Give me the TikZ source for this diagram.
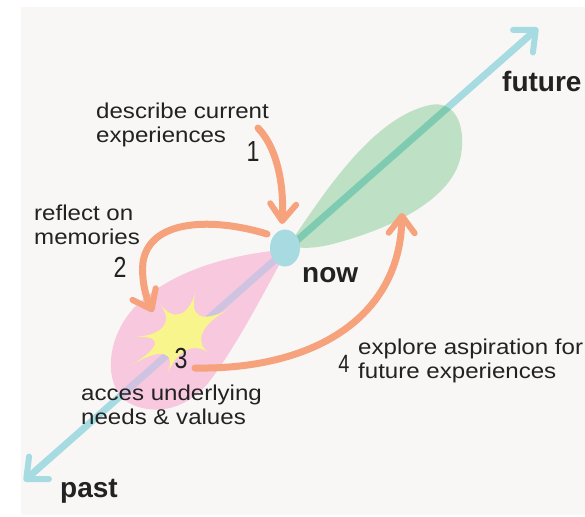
\documentclass[tikz,border=0pt]{standalone}
\usepackage{fontspec}
\setmainfont{Liberation Sans}
\newfontfamily\lblfont[FakeStretch=1.12]{Liberation Sans}
\newfontfamily\numfont[FakeStretch=0.8]{Liberation Sans}
\usetikzlibrary{arrows.meta,shapes.geometric,calc}
\definecolor{bg}{HTML}{F8F7F5}
\definecolor{axisblue}{HTML}{A6DBE2}
\definecolor{dotblue}{HTML}{A8DAE2}
\definecolor{leafgreen}{HTML}{BEE0C4}
\definecolor{leafpink}{HTML}{F7C8DE}
\definecolor{axisteal}{HTML}{7ECBB2}
\definecolor{axislav}{HTML}{CEC3E0}
\definecolor{burst}{HTML}{F7F58B}
\definecolor{steporange}{HTML}{F6A27C}
\definecolor{ink}{HTML}{222222}
\begin{document}
\begin{tikzpicture}[x=1pt,y=-1pt,
  txt/.style={font=\lblfont\fontsize{21.5}{23.5}\selectfont, text=ink, inner sep=0pt, anchor=base west, align=left},
  bigtxt/.style={font=\bfseries\fontsize{28}{30}\selectfont, text=ink, inner sep=0pt, anchor=base west},
  numtxt/.style={font=\numfont\fontsize{29}{29}\selectfont, text=ink, inner sep=0pt},
  axisline/.style={line width=7pt, draw=axisblue,
    {Straight Barb[length=17pt,width=30pt,line width=6pt,round]}-{Straight Barb[length=17pt,width=30pt,line width=6pt,round]}},
  steparrow/.style={line width=7pt, draw=steporange, line cap=round,
    -{Straight Barb[length=17pt,width=26pt,line width=6pt,round]}}
]
\useasboundingbox (0,0) rectangle (585,516);
\fill[white] (0,0) rectangle (585,516);
\fill[bg] (21,7) rectangle (585,515);

% time axis end points
\coordinate (pastend) at (24,481);
\coordinate (futureend) at (538,28);
\draw[axisline] (pastend) -- (futureend);

% leaves around the present moment
\path[save path=\greenleaf] (290,243) .. controls (320,200) and (370,118) .. (430,105)
  .. controls (455,100) and (466,125) .. (461,155)
  .. controls (453,200) and (390,228) .. (340,242)
  .. controls (320,248) and (300,250) .. (290,245) -- cycle;
\path[save path=\pinkleaf] (281,250) .. controls (240,254) and (180,266) .. (140,302)
  .. controls (105,333) and (100,390) .. (133,405)
  .. controls (165,418) and (195,402) .. (212,378)
  .. controls (240,340) and (265,290) .. (283,258) -- cycle;
\fill[leafgreen, use path=\greenleaf];
\fill[leafpink, use path=\pinkleaf];
\begin{scope}
  \clip[use path=\greenleaf];
  \draw[line width=7pt, axisteal] (pastend) -- (futureend);
\end{scope}
\begin{scope}
  \clip[use path=\pinkleaf];
  \draw[line width=7pt, axislav] (pastend) -- (futureend);
\end{scope}

% burst of underlying needs: spikes joined by concave curves
\coordinate (bc) at (183,334);
\coordinate (b1) at (196,291);
\coordinate (b2) at (229,309);
\coordinate (b3) at (209,353);
\coordinate (b4) at (167,375);
\coordinate (b5) at (130,366);
\coordinate (b6) at (134,337);
\coordinate (b7) at (160,304);
\fill[burst] (b1)
  .. controls ($(b1)!0.6!(bc)$) and ($(b2)!0.6!(bc)$) .. (b2)
  .. controls ($(b2)!0.6!(bc)$) and ($(b3)!0.6!(bc)$) .. (b3)
  .. controls ($(b3)!0.6!(bc)$) and ($(b4)!0.6!(bc)$) .. (b4)
  .. controls ($(b4)!0.6!(bc)$) and ($(b5)!0.6!(bc)$) .. (b5)
  .. controls ($(b5)!0.6!(bc)$) and ($(b6)!0.6!(bc)$) .. (b6)
  .. controls ($(b6)!0.6!(bc)$) and ($(b7)!0.6!(bc)$) .. (b7)
  .. controls ($(b7)!0.6!(bc)$) and ($(b1)!0.6!(bc)$) .. (b1) -- cycle;

% present moment
\node (now) [ellipse, fill=dotblue, minimum width=30pt, minimum height=37pt, inner sep=0pt] at (285,248) {};

% step arrows
\coordinate (s1a) at (258,128);
\coordinate (s1b) at (282,224);
\coordinate (s2a) at (267,234);
\coordinate (s2b) at (153,312);
\coordinate (s3a) at (195,368);
\coordinate (s4b) at (402,213);
\draw[steparrow] (s1a) .. controls (279,150) and (284,190) .. (s1b);
\draw[steparrow] (s2a) .. controls (215,218) and (150,218) .. (143,262)
  .. controls (141,282) and (147,300) .. (s2b);
\draw[steparrow] (s3a) .. controls (310,370) and (400,320) .. (s4b);

% labels (anchored at the baseline of their last line)
\node[txt] (t1) at (96,142) {describe current\\experiences};
\node[txt] (t2) at (34,244) {reflect on\\memories};
\node[txt] (t3) at (81,424) {acces underlying\\needs \& values};
\node[txt] (t4) at (358,378) {explore aspiration for\\future experiences};
\node[numtxt] (n1) at (253,152) {1};
\node[numtxt] (n2) at (120,267) {2};
\node[numtxt] (n3) at (181,359) {3};
\node[numtxt, font=\numfont\fontsize{25}{25}\selectfont] (n4) at (344,364) {4};
\node[bigtxt] (lnow) at (302,282) {now};
\node[bigtxt] (lfuture) at (502,92) {future};
\node[bigtxt] (lpast) at (60,497) {past};
\end{tikzpicture}
\end{document}
